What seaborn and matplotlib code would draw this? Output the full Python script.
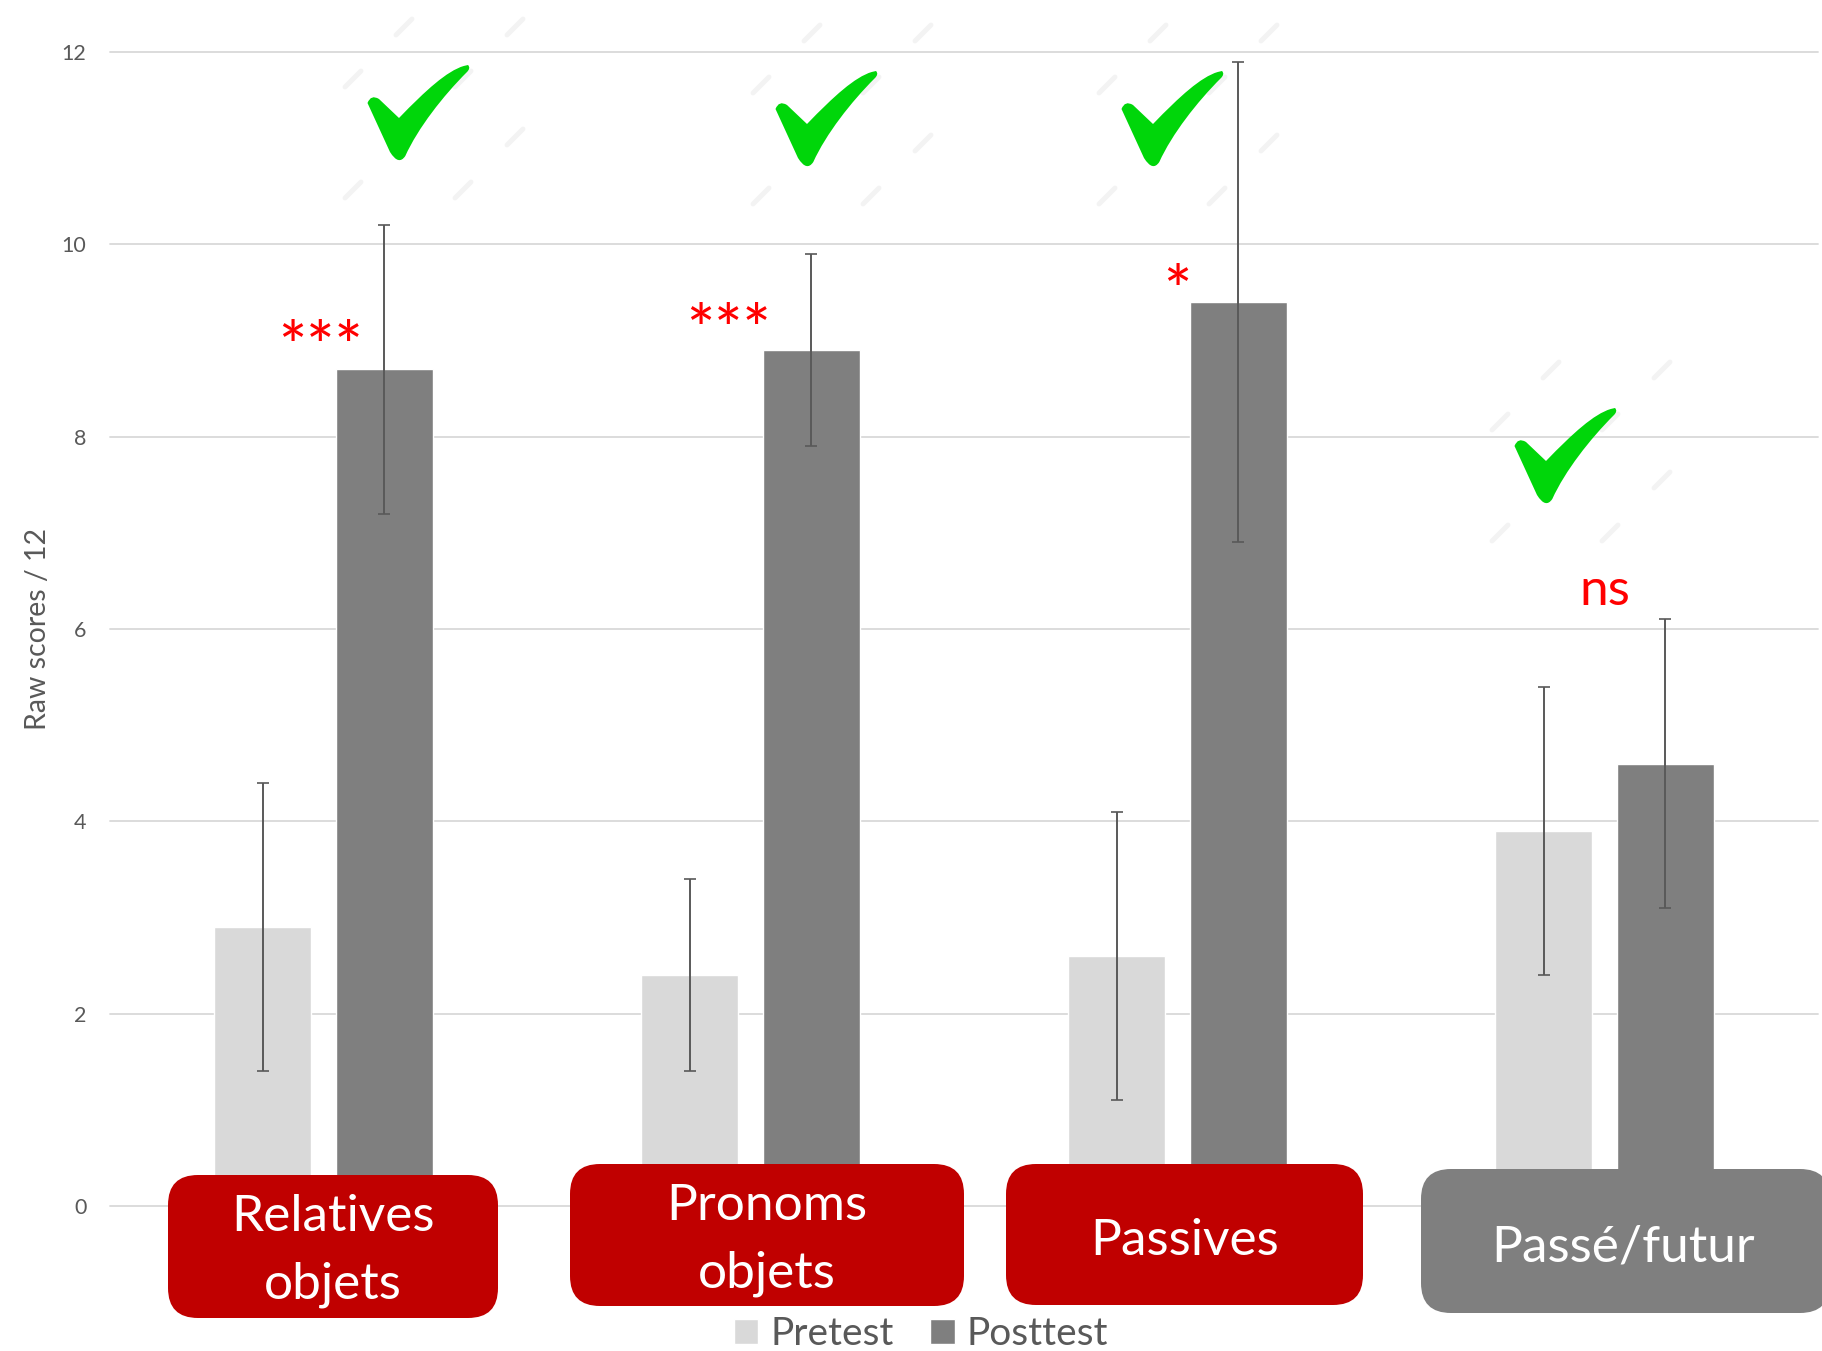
import matplotlib
matplotlib.use("Agg")
import matplotlib.pyplot as plt
from matplotlib.patches import FancyBboxPatch, PathPatch
from matplotlib.path import Path
import pandas as pd
import seaborn as sns

categories = ["Relatives objets", "Pronoms objets", "Passives", "Passé/futur"]
pretest = [2.9, 2.4, 2.6, 3.9]
posttest = [8.7, 8.9, 9.4, 4.6]
pretest_err = [1.5, 1.0, 1.5, 1.5]
posttest_err = [1.5, 1.0, 2.5, 1.5]
signif = ["***", "***", "*", "ns"]
yticks = [0, 2, 4, 6, 8, 10, 12]

sns.set_theme(style="white")
plt.rcParams["font.family"] = ["Lato", "DejaVu Sans"]

W, H = 1822, 1351
fig = plt.figure(figsize=(W / 100, H / 100), dpi=100)
ax = fig.add_axes([110 / W, 1 - 1206 / H, (1818 - 110) / W, (1206 - 52) / H])

df = pd.DataFrame({
    "category": categories * 2,
    "score": pretest + posttest,
    "test": ["Pretest"] * 4 + ["Posttest"] * 4,
})
sns.barplot(data=df, x="category", y="score", hue="test", ax=ax,
            palette=["#d9d9d9", "#7f7f7f"], width=0.571, gap=0.21,
            errorbar=None, saturation=1)

# error bars sit on the bars seaborn placed
for bars, vals, errs in zip(ax.containers, [pretest, posttest], [pretest_err, posttest_err]):
    xs = [b.get_x() + b.get_width() / 2 for b in bars]
    ax.errorbar(xs, vals, yerr=errs, fmt="none", ecolor="#595959",
                elinewidth=1.4, capsize=4, capthick=1.2, zorder=4)

ax.set_xlim(-0.5, 3.5)
ax.set_ylim(0, 12)
ax.set_yticks(yticks)
ax.set_xlabel("")
ax.set_xticks([])
ax.set_ylabel("Raw scores / 12", fontsize=20.5, color="#595959")
ax.yaxis.set_label_coords((51 - 110) / (1818 - 110), 0.5)
ax.tick_params(axis="y", length=0, pad=17, labelsize=15.5, labelcolor="#595959")
ax.grid(axis="y", color="#d9d9d9", lw=1.3)
for line in ax.get_ygridlines():
    line.set_clip_on(False)
ax.set_axisbelow(True)
sns.despine(ax=ax, left=True, bottom=True)

sns.move_legend(ax, "center", bbox_to_anchor=(921 / W, 1 - 1334 / H),
                bbox_transform=fig.transFigure, ncol=2, frameon=False, title=None,
                fontsize=28, handlelength=0.62, handleheight=0.62,
                handletextpad=0.32, columnspacing=0.95, labelcolor="#595959",
                borderpad=0, borderaxespad=0)

# overlay in image pixels for the callouts pasted over the chart
over = fig.add_axes([0, 0, 1, 1], facecolor="none")
over.set_xlim(0, W)
over.set_ylim(H, 0)
over.axis("off")

boxes = [(168, 1175, 498, 1318, "#c00000", 333, 1249),
         (570, 1164, 964, 1306, "#c00000", 767, 1238),
         (1006, 1164, 1363, 1305, "#c00000", 1185, 1239),
         (1421, 1169, 1830, 1313, "#7f7f7f", 1623, 1245)]
for name, (x0, y0, x1, y1, col, tx, ty) in zip(categories, boxes):
    over.add_patch(FancyBboxPatch((x0, y0), x1 - x0, y1 - y0, boxstyle="round,pad=0,rounding_size=30",
                                  fc=col, ec="none", clip_on=True))
    over.text(tx, ty + 2, name.replace(" ", "\n"), color="white", fontsize=37,
              ha="center", va="center", linespacing=1.57)

sig_pos = [(321, 351), (728, 334), (1177, 295), (1605, 591)]
for s, (x, y) in zip(signif, sig_pos):
    if s == "ns":
        over.text(x, y, s, color="#ff0000", fontsize=37, ha="center", va="center")
    else:
        over.text(x, y, s, color="#ff0000", fontsize=48, ha="center", va="center",
                  fontweight="medium")

check_verts = [(31, 52), (11, 33), (3, 28), (-0.5, 37),
               (22, 86), (30.7, 100), (37.3, 90),
               (50, 62), (75, 30), (99, 6), (103, 2), (100, -1), (95.7, 0),
               (79, 5), (58, 24), (31, 52), (31, 52)]
check_codes = [Path.MOVETO, Path.LINETO, Path.CURVE3, Path.CURVE3,
               Path.LINETO, Path.CURVE3, Path.CURVE3,
               Path.CURVE4, Path.CURVE4, Path.CURVE4, Path.CURVE3, Path.CURVE3, Path.LINETO,
               Path.CURVE4, Path.CURVE4, Path.CURVE4, Path.CLOSEPOLY]
stamps = [(36, -39), (147, -39), (-15, 13), (95, 13), (147, 71), (-15, 124), (95, 124)]
for cx, cy in [(368, 66), (776, 72), (1122, 72), (1515, 409)]:
    for dx, dy in stamps:
        over.plot([cx + dx - 8, cx + dx + 8], [cy + dy + 8, cy + dy - 8],
                  color="#f3f3f3", lw=3.5, solid_capstyle="round")
    verts = [(cx + a, cy + b) for a, b in check_verts]
    over.add_patch(PathPatch(Path(verts, check_codes), fc="#00d60a", ec="none", zorder=5))

fig.savefig("out.png", dpi=100)
